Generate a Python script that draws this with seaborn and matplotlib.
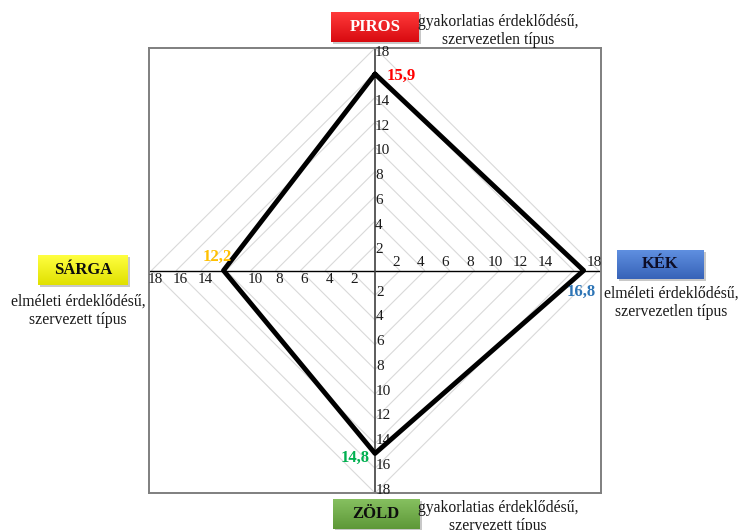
import numpy as np
import pandas as pd
import matplotlib.pyplot as plt
import seaborn as sns
from matplotlib.patches import Rectangle
from matplotlib.colors import LinearSegmentedColormap

# values on the four axes (up, right, down, left)
directions = ['PIROS', 'KÉK', 'ZÖLD', 'SÁRGA']
values = [15.9, 16.8, 14.8, 12.2]
value_labels = ['15,9', '16,8', '14,8', '12,2']
value_colors = ['#ff0000', '#2e75b6', '#00b050', '#ffc000']
descriptions = ['gyakorlatias érdeklődésű,\nszervezetlen típus',
                'elméleti érdeklődésű,\nszervezetlen típus',
                'gyakorlatias érdeklődésű,\nszervezett típus',
                'elméleti érdeklődésű,\nszervezett típus']

# tick labels visible on each half axis
ticks_up = [2, 4, 6, 8, 10, 12, 14, 18]
ticks_right = [2, 4, 6, 8, 10, 12, 14, 18]
ticks_down = [2, 4, 6, 8, 10, 12, 14, 16, 18]
ticks_left = [2, 4, 6, 8, 10, 14, 16, 18]
grid_levels = [2, 4, 6, 8, 10, 12, 14, 16, 18]

sns.set_theme(style='white')
plt.rcParams['font.family'] = ['Liberation Serif', 'DejaVu Serif']

fig = plt.figure(figsize=(7.39, 5.30), dpi=100)
ax = fig.add_axes([0.2016, 0.0698, 0.6117, 0.8396])
ax.set_xlim(-18.2, 18.2)
ax.set_ylim(-18.0, 18.0)
ax.set_xticks([])
ax.set_yticks([])
for s in ax.spines.values():
    s.set_color('#7f7f7f')
    s.set_linewidth(1.4)

# diamond grid
for k in grid_levels:
    ax.plot([0, k, 0, -k, 0], [k, 0, -k, 0, k], color='#d9d9d9', lw=0.8, zorder=1)

ax.axhline(0, color='black', lw=1.0, zorder=2)
ax.axvline(0, color='#404040', lw=1.2, zorder=2)

# tick labels
tk = dict(textcoords='offset pixels', fontsize=11, color='#1a1a1a', zorder=3)
for v in ticks_right:
    ax.annotate(str(v), (v, 0), xytext=(-4, 8), ha='center', va='center', **tk)
for v in ticks_left:
    ax.annotate(str(v), (-v, 0), xytext=(4, -9), ha='center', va='center', **tk)
for v in ticks_up:
    ax.annotate(str(v), (0, v), xytext=(0, -4), ha='left', va='center', **tk)
for v in ticks_down:
    ax.annotate(str(v), (0, -v), xytext=(1, 3), ha='left', va='center', **tk)

# data polygon
up, right, down, left = values
df = pd.DataFrame({'x': [0, right, 0, -left, 0],
                   'y': [up, 0, -down, 0, up]})
sns.lineplot(data=df, x='x', y='y', sort=False, estimator=None,
             color='black', lw=3.5, ax=ax, zorder=4)
ax.set_xlabel('')
ax.set_ylabel('')

points = [(0, up), (right, 0), (0, -down), (-left, 0)]
offsets = [(26, -2), (-2, -21), (-20, -4), (-6, 14)]
for p, lab, col, off in zip(points, value_labels, value_colors, offsets):
    ax.annotate(lab, p, xytext=off, textcoords='offset pixels', ha='center',
                va='center', fontsize=12, fontweight='bold', color=col, zorder=5)

# direction boxes with a soft vertical gradient
W, H = 739, 530
box_pos = [(375, 27), (660, 264), (376, 514), (83, 270)]
box_size = [(88, 30), (87, 29), (87, 30), (90, 30)]
box_top = ['#ff3a3a', '#5f8fe0', '#86c060', '#ffff40']
box_bottom = ['#d80a10', '#3763b8', '#5e9838', '#e0e000']
box_text = ['white', '#0d0d26', '#0d0d0d', '#0d0d0d']
grad = np.linspace(0, 1, 64).reshape(-1, 1)
for name, (cx, cy), (bw, bh), c1, c2, tc in zip(directions, box_pos, box_size,
                                                 box_top, box_bottom, box_text):
    fig.patches.append(Rectangle(((cx - bw / 2 + 2) / W, 1 - (cy + bh / 2 + 2) / H),
                                 bw / W, bh / H, transform=fig.transFigure,
                                 facecolor='#c8c8c8', edgecolor='none', zorder=1))
    bax = fig.add_axes([(cx - bw / 2) / W, 1 - (cy + bh / 2) / H, bw / W, bh / H])
    bax.set_zorder(3)
    bax.imshow(grad, aspect='auto', cmap=LinearSegmentedColormap.from_list('g', [c1, c2]))
    bax.set_axis_off()
    bax.text(0.5, 0.5, name, transform=bax.transAxes, ha='center', va='center',
             fontsize=12, fontweight='bold', color=tc)

desc_pos = [(498, 31), (671, 303), (498, 517), (78, 311)]
for txt, (cx, cy) in zip(descriptions, desc_pos):
    fig.text(cx / W, 1 - cy / H, txt, ha='center', va='center', fontsize=11.3,
             color='#1a1a1a', linespacing=1.25)

fig.savefig('out.png', dpi=100)
